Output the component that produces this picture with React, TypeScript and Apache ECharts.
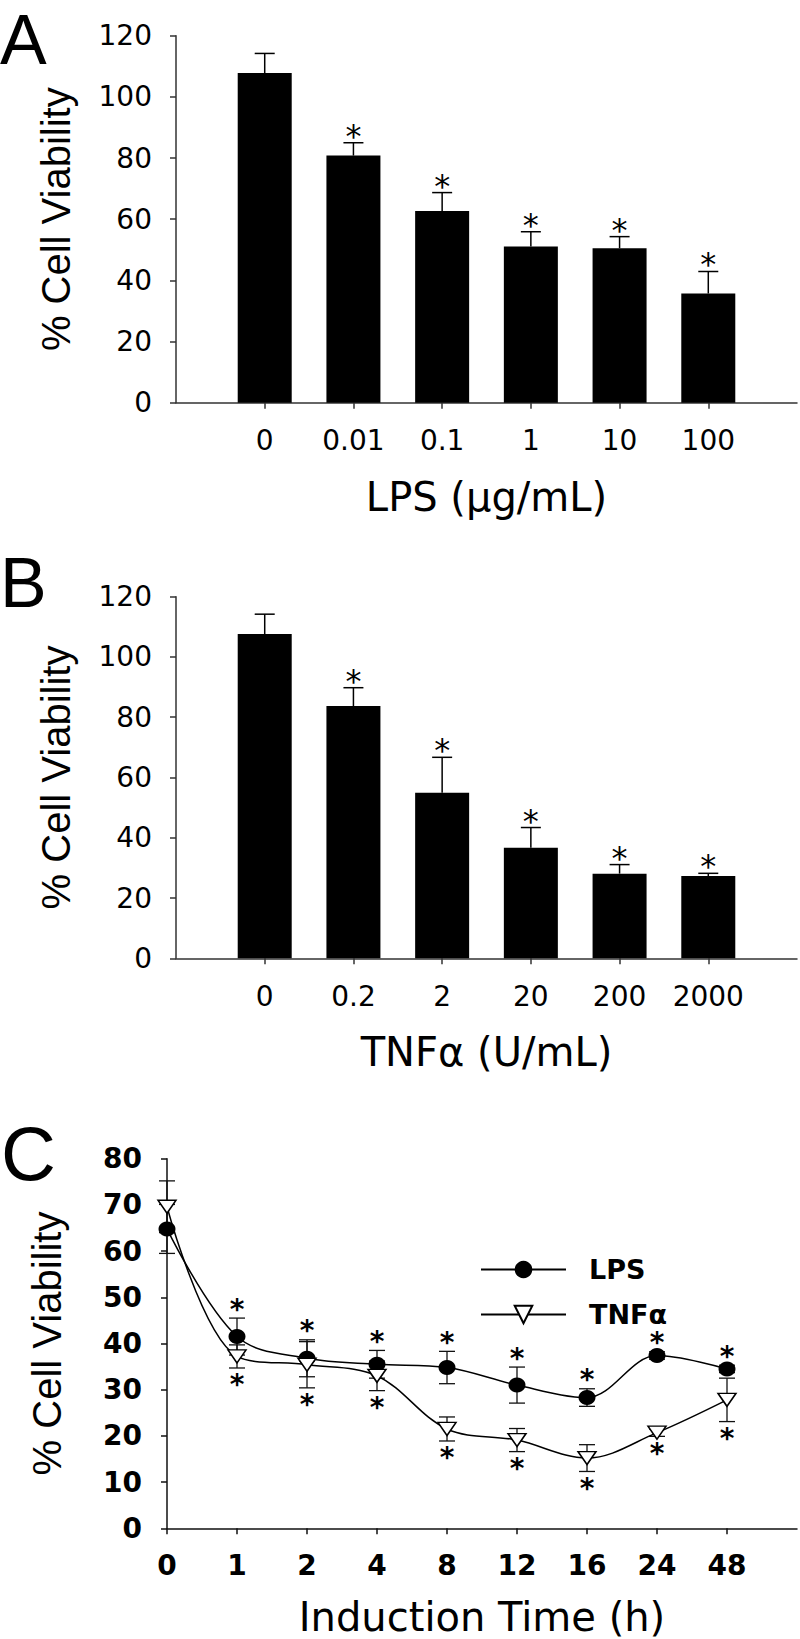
import React, { useEffect, useRef } from 'react';
import * as echarts from 'echarts';

// ---- Panel A: LPS dose response ----
const lpsDoseLabels = ['0', '0.01', '0.1', '1', '10', '100'];
const lpsDoseMean = [107.8, 80.8, 62.7, 51.1, 50.5, 35.7];
const lpsDoseErr = [6.4, 4.2, 6.0, 4.8, 3.8, 7.2];
const lpsDoseSig = [false, true, true, true, true, true];

// ---- Panel B: TNFα dose response ----
const tnfDoseLabels = ['0', '0.2', '2', '20', '200', '2000'];
const tnfDoseMean = [107.6, 83.7, 54.9, 36.7, 28.1, 27.3];
const tnfDoseErr = [6.6, 6.1, 11.8, 6.7, 3.0, 0.9];
const tnfDoseSig = [false, true, true, true, true, true];

// ---- Panel C: time course ----
const timeLabels = ['0', '1', '2', '4', '8', '12', '16', '24', '48'];
const lpsTimeMean = [64.8, 41.5, 36.8, 35.5, 34.8, 31.0, 28.3, 37.4, 34.5];
const lpsTimeErr = [5.3, 4.0, 4.0, 3.0, 3.5, 3.9, 1.9, 0.8, 0.8];
const tnfTimeMean = [69.6, 37.2, 35.4, 33.0, 21.5, 19.1, 15.2, 20.7, 27.8];
const tnfTimeErr = [5.6, 2.5, 5.0, 3.2, 2.6, 2.5, 2.9, 0.8, 4.7];
const timeSig = [false, true, true, true, true, true, true, true, true];

const WIDE = 'DejaVu Sans';
const ARIAL = 'Liberation Sans';

function barErrRender(params: any, api: any) {
  const x = api.value(0);
  const m = api.value(1);
  const e = api.value(2);
  const s = api.value(3);
  const base = api.coord([x, m]);
  const top = api.coord([x, m + e]);
  const children: any[] = [
    { type: 'line', shape: { x1: base[0], y1: base[1], x2: top[0], y2: top[1] }, style: { stroke: '#000', lineWidth: 1.5 } },
    { type: 'line', shape: { x1: top[0] - 10, y1: top[1], x2: top[0] + 10, y2: top[1] }, style: { stroke: '#000', lineWidth: 1.5 } },
  ];
  if (s) {
    children.push({
      type: 'text', x: top[0], y: top[1] - 7,
      style: { text: '*', fontSize: 32, fontFamily: WIDE, fill: '#000', align: 'center', verticalAlign: 'middle' },
    });
  }
  return { type: 'group', children };
}

function timeErrRender(dir: number) {
  return (params: any, api: any) => {
    const x = api.value(0);
    const m = api.value(1);
    const e = api.value(2);
    const s = api.value(3);
    const hi = api.coord([x, m + e]);
    const lo = api.coord([x, m - e]);
    const children: any[] = [
      { type: 'line', shape: { x1: hi[0], y1: hi[1], x2: lo[0], y2: lo[1] }, style: { stroke: '#111', lineWidth: 1.3 } },
      { type: 'line', shape: { x1: hi[0] - 8, y1: hi[1], x2: hi[0] + 8, y2: hi[1] }, style: { stroke: '#111', lineWidth: 1.3 } },
      { type: 'line', shape: { x1: lo[0] - 8, y1: lo[1], x2: lo[0] + 8, y2: lo[1] }, style: { stroke: '#111', lineWidth: 1.3 } },
    ];
    if (s) {
      const y = dir > 0 ? hi[1] - 9 : lo[1] + 17;
      children.push({
        type: 'text', x: hi[0], y,
        style: { text: '*', fontSize: 28, fontWeight: 'bold', fontFamily: WIDE, fill: '#000', align: 'center', verticalAlign: 'middle' },
      });
    }
    return { type: 'group', children };
  };
}

function barXAxis(labels: string[], name: string, gridIndex: number) {
  return {
    type: 'category',
    gridIndex,
    data: ['', ...labels, ''],
    boundaryGap: false,
    name,
    nameLocation: 'middle',
    nameGap: 74,
    nameTextStyle: { fontFamily: WIDE, fontSize: 40, color: '#000' },
    axisLine: { show: true, lineStyle: { color: '#333', width: 1.5 } },
    axisTick: { show: true, length: 6, interval: (i: number, v: string) => v !== '', lineStyle: { color: '#333', width: 1.5 } },
    axisLabel: { interval: 0, margin: 24, fontFamily: WIDE, fontSize: 28, color: '#000' },
    splitLine: { show: false },
  };
}

function barYAxis(gridIndex: number) {
  return {
    type: 'value',
    gridIndex,
    min: 0,
    max: 120,
    interval: 20,
    name: '% Cell Viability',
    nameLocation: 'middle',
    nameGap: 100,
    nameTextStyle: { fontFamily: ARIAL, fontSize: 40, color: '#000' },
    axisLine: { show: true, lineStyle: { color: '#333', width: 1.5 } },
    axisTick: { show: true, length: 6, lineStyle: { color: '#333', width: 1.5 } },
    axisLabel: { margin: 24, fontFamily: WIDE, fontSize: 28, color: '#000' },
    splitLine: { show: false },
  };
}

export default function App() {
  const ref = useRef<HTMLDivElement>(null);

  useEffect(() => {
    document.body.style.margin = '0';
    if (!ref.current) return;
    const chart = echarts.init(ref.current, null, { renderer: 'svg' });

    const option: any = {
      animation: false,
      backgroundColor: '#fff',
      textStyle: { fontFamily: WIDE },
      grid: [
        { left: 176, top: 35.7, width: 622, height: 367 },
        { left: 176, top: 596.7, width: 622, height: 361.6 },
        { left: 167, top: 1158.7, width: 630, height: 369.6 },
      ],
      xAxis: [
        barXAxis(lpsDoseLabels, 'LPS (μg/mL)', 0),
        barXAxis(tnfDoseLabels, 'TNFα (U/mL)', 1),
        {
          type: 'category',
          gridIndex: 2,
          data: [...timeLabels, ''],
          boundaryGap: false,
          name: 'Induction Time (h)',
          nameLocation: 'middle',
          nameGap: 69,
          nameTextStyle: { fontFamily: WIDE, fontSize: 40, color: '#000' },
          axisLine: { show: true, lineStyle: { color: '#111', width: 1.5 } },
          axisTick: { show: true, length: 6, interval: (i: number, v: string) => v !== '', lineStyle: { color: '#111', width: 1.5 } },
          axisLabel: { interval: 0, margin: 23, fontFamily: WIDE, fontWeight: 'bold', fontSize: 28, color: '#000' },
          splitLine: { show: false },
        },
      ],
      yAxis: [
        barYAxis(0),
        barYAxis(1),
        {
          type: 'value',
          gridIndex: 2,
          min: 0,
          max: 80,
          interval: 10,
          name: '% Cell Viability',
          nameLocation: 'middle',
          nameGap: 100,
          nameTextStyle: { fontFamily: ARIAL, fontSize: 40, color: '#000' },
          axisLine: { show: true, lineStyle: { color: '#111', width: 1.5 } },
          axisTick: { show: true, length: 6, lineStyle: { color: '#111', width: 1.5 } },
          axisLabel: { margin: 25, fontFamily: WIDE, fontWeight: 'bold', fontSize: 28, color: '#000' },
          splitLine: { show: false },
        },
      ],
      legend: {
        orient: 'vertical',
        left: 475,
        top: 1251,
        itemWidth: 85,
        itemHeight: 22,
        itemGap: 18,
        selectedMode: false,
        data: ['LPS', 'TNFα'],
        formatter: (name: string) => '{t|' + name + '}',
        textStyle: {
          fontFamily: WIDE, fontWeight: 'bold', fontSize: 27, color: '#000',
          rich: { t: { fontFamily: WIDE, fontWeight: 'bold', fontSize: 27, lineHeight: 27, color: '#000', padding: [0, 0, 0, 18] } },
        },
      },
      graphic: [
        { type: 'text', x: 0, y: 5, style: { text: 'A', fontFamily: ARIAL, fontSize: 70, fill: '#000', align: 'left', verticalAlign: 'top' } },
        { type: 'text', x: 0, y: 548, style: { text: 'B', fontFamily: ARIAL, fontSize: 70, fill: '#000', align: 'left', verticalAlign: 'top' } },
        { type: 'text', x: 1, y: 1115, style: { text: 'C', fontFamily: ARIAL, fontSize: 76, fill: '#000', align: 'left', verticalAlign: 'top' } },
      ],
      series: [
        {
          name: 'LPS dose',
          type: 'bar',
          xAxisIndex: 0,
          yAxisIndex: 0,
          barWidth: 54,
          data: ['-', ...lpsDoseMean, '-'],
          itemStyle: { color: '#000' },
          z: 2,
        },
        {
          name: 'LPS dose error',
          type: 'custom',
          xAxisIndex: 0,
          yAxisIndex: 0,
          renderItem: barErrRender,
          encode: { x: 0, y: 1 },
          data: lpsDoseMean.map((m, i) => [i + 1, m, lpsDoseErr[i], lpsDoseSig[i] ? 1 : 0]),
          z: 3,
        },
        {
          name: 'TNF dose',
          type: 'bar',
          xAxisIndex: 1,
          yAxisIndex: 1,
          barWidth: 54,
          data: ['-', ...tnfDoseMean, '-'],
          itemStyle: { color: '#000' },
          z: 2,
        },
        {
          name: 'TNF dose error',
          type: 'custom',
          xAxisIndex: 1,
          yAxisIndex: 1,
          renderItem: barErrRender,
          encode: { x: 0, y: 1 },
          data: tnfDoseMean.map((m, i) => [i + 1, m, tnfDoseErr[i], tnfDoseSig[i] ? 1 : 0]),
          z: 3,
        },
        {
          name: 'LPS time error',
          type: 'custom',
          xAxisIndex: 2,
          yAxisIndex: 2,
          renderItem: timeErrRender(1),
          encode: { x: 0, y: 1 },
          data: lpsTimeMean.map((m, i) => [i, m, lpsTimeErr[i], timeSig[i] ? 1 : 0]),
          z: 2,
        },
        {
          name: 'TNF time error',
          type: 'custom',
          xAxisIndex: 2,
          yAxisIndex: 2,
          renderItem: timeErrRender(-1),
          encode: { x: 0, y: 1 },
          data: tnfTimeMean.map((m, i) => [i, m, tnfTimeErr[i], timeSig[i] ? 1 : 0]),
          z: 2,
        },
        {
          name: 'LPS',
          type: 'line',
          xAxisIndex: 2,
          yAxisIndex: 2,
          data: lpsTimeMean,
          smooth: 0.35,
          symbol: 'circle',
          symbolSize: [17, 15],
          itemStyle: { color: '#000' },
          lineStyle: { color: '#000', width: 1.5 },
          z: 5,
        },
        {
          name: 'TNFα',
          type: 'line',
          xAxisIndex: 2,
          yAxisIndex: 2,
          data: tnfTimeMean,
          smooth: 0.35,
          symbol: 'triangle',
          symbolRotate: 180,
          symbolSize: [18, 13],
          itemStyle: { color: '#fff', borderColor: '#000', borderWidth: 1.5 },
          lineStyle: { color: '#000', width: 1.5 },
          z: 6,
        },
      ],
    };

    chart.setOption(option);
    return () => {
      chart.dispose();
    };
  }, []);

  return <div ref={ref} style={{ width: 800, height: 1639 }} />;
}
